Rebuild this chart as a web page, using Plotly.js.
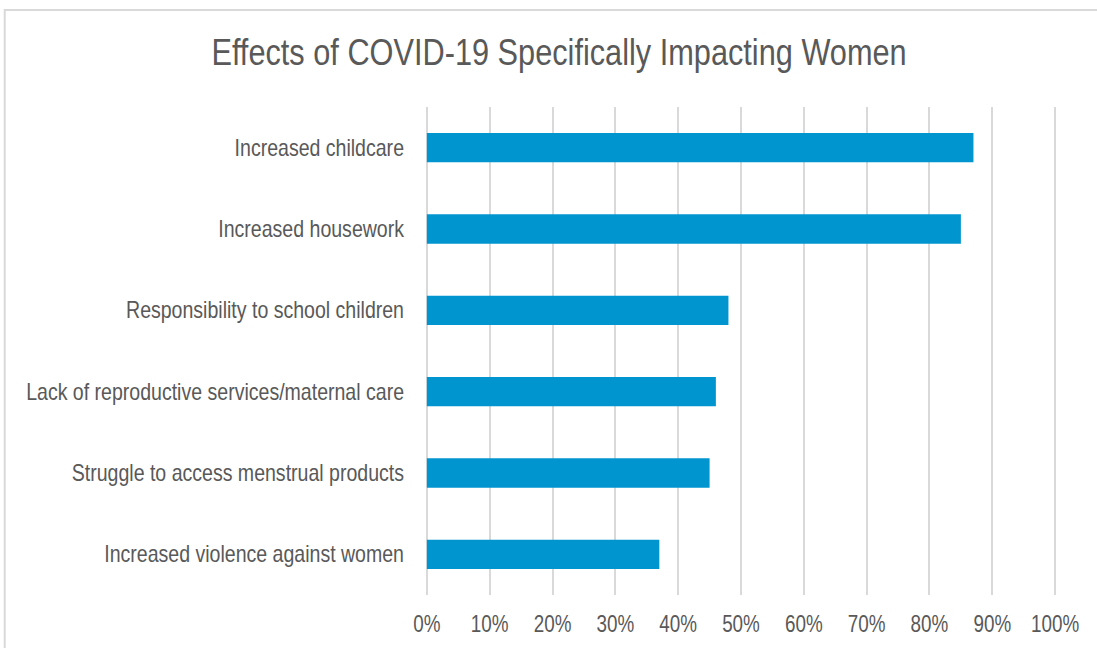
<!DOCTYPE html>
<html>
<head>
<meta charset="utf-8">
<script src="https://cdn.plot.ly/plotly-3.0.1.min.js"></script>
<style>
  html, body { margin: 0; padding: 0; background: #fff; }
  #chart { width: 1097px; height: 648px; }
</style>
</head>
<body>
<div id="chart"></div>
<script>
// Survey responses, listed top to bottom
const categories = [
  "Increased childcare",
  "Increased housework",
  "Responsibility to school children",
  "Lack of reproductive services/maternal care",
  "Struggle to access menstrual products",
  "Increased violence against women"
];
const shares = [0.87, 0.85, 0.48, 0.46, 0.45, 0.37];
const tickValues = [0, 0.1, 0.2, 0.3, 0.4, 0.5, 0.6, 0.7, 0.8, 0.9, 1.0];
const tickLabels = ["0%", "10%", "20%", "30%", "40%", "50%", "60%", "70%", "80%", "90%", "100%"];

const FONT = "'Liberation Sans', Arial, sans-serif";
const TEXT = "#595959";
const GRID = "#d9d9d9";

// Horizontal squeeze per text group, giving a narrow sans look
const NARROW = { ".gtitle": 0.83, ".xtick text": 0.82, ".ytick text": 0.85 };

const trace = {
  type: "bar",
  orientation: "h",
  x: shares,
  y: categories,
  marker: { color: "#0095cf", line: { width: 0 } },
  hoverinfo: "x+y"
};

const layout = {
  width: 1097,
  height: 648,
  margin: { l: 425.1, r: 40.1, t: 107, b: 53, pad: 0 },
  paper_bgcolor: "#ffffff",
  plot_bgcolor: "#ffffff",
  bargap: 0.64,
  showlegend: false,
  font: { family: FONT, color: TEXT, size: 23 },
  title: {
    text: "Effects of COVID-19 Specifically Impacting Women",
    font: { family: FONT, size: 37, color: TEXT },
    xref: "container", yref: "container",
    x: 0.5096, xanchor: "center",
    y: 0.92, yanchor: "middle"
  },
  xaxis: {
    range: [-0.003, 1.003],
    tickvals: tickValues,
    ticktext: tickLabels,
    showgrid: true,
    gridcolor: GRID,
    gridwidth: 2,
    zeroline: false,
    showline: false,
    ticks: "",
    ticklabelstandoff: 13,
    tickfont: { family: FONT, size: 23, color: TEXT },
    fixedrange: true
  },
  yaxis: {
    autorange: "reversed",
    showgrid: false,
    zeroline: false,
    showline: false,
    ticks: "",
    ticklabelstandoff: 20,
    tickfont: { family: FONT, size: 23, color: TEXT },
    fixedrange: true
  },
  shapes: [
    {
      // Outer frame around the chart area
      type: "rect",
      xref: "paper", yref: "paper",
      x0: -0.665, x1: 1.2,
      y0: -0.2, y1: 1.1988,
      line: { color: GRID, width: 2 },
      fillcolor: "rgba(0,0,0,0)",
      layer: "below"
    }
  ]
};

// Squeeze each label horizontally around its own anchor point
function narrowText(gd) {
  Object.keys(NARROW).forEach(function (sel) {
    const k = NARROW[sel];
    gd.querySelectorAll(sel).forEach(function (el) {
      const ax = parseFloat(el.getAttribute("x")) || 0;
      const prev = el.getAttribute("transform") || "";
      el.setAttribute("transform",
        prev + " translate(" + ax + ",0) scale(" + k + ",1) translate(" + (-ax) + ",0)");
    });
  });
}

Plotly.newPlot("chart", [trace], layout, { displayModeBar: false, staticPlot: true })
  .then(narrowText);
</script>
</body>
</html>
